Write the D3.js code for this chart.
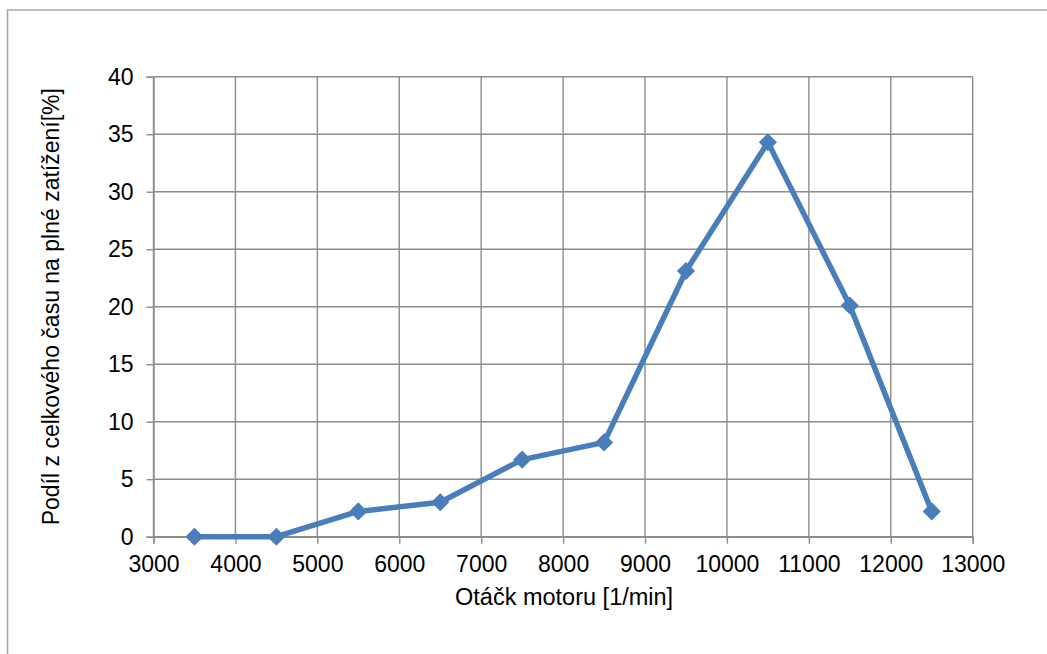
<!DOCTYPE html>
<html>
<head>
<meta charset="utf-8">
<script src="https://cdn.jsdelivr.net/npm/d3@7"></script>
<style>
  html, body { margin: 0; padding: 0; background: #fff; }
  svg { display: block; }
  text { font-family: "Liberation Sans", Arial, sans-serif; fill: #000; }
</style>
</head>
<body>
<script>
const rpm = [3500, 4500, 5500, 6500, 7500, 8500, 9500, 10500, 11500, 12500];
const share = [0, 0, 2.2, 3.0, 6.7, 8.2, 23.1, 34.3, 20.1, 2.2];
const xTicks = [3000, 4000, 5000, 6000, 7000, 8000, 9000, 10000, 11000, 12000, 13000];
const yTicks = [0, 5, 10, 15, 20, 25, 30, 35, 40];
const xTitle = "Otáčk motoru [1/min]";
const yTitle = "Podíl z celkového času na plné zatížení[%]";

const W = 1047, H = 654;
const m = { left: 153.5, right: W - 972.7, top: 76.7, bottom: H - 536.7 };
const svg = d3.select("body").append("svg").attr("width", W).attr("height", H);

// outer frame
svg.append("rect").attr("x", 7.5).attr("y", 10).attr("width", W + 10).attr("height", H + 10)
  .attr("fill", "none").attr("stroke", "#a6a6a6").attr("stroke-width", 1.5);

const x = d3.scaleLinear().domain([3000, 13000]).range([m.left, W - m.right]);
const y = d3.scaleLinear().domain([0, 40]).range([H - m.bottom, m.top]);
const gridColor = "#8c8c8c";

// grid
svg.append("g").selectAll("line").data(xTicks).join("line")
  .attr("x1", d => x(d)).attr("x2", d => x(d))
  .attr("y1", y(40)).attr("y2", y(0))
  .attr("stroke", gridColor).attr("stroke-width", 1.4);
svg.append("g").selectAll("line").data(yTicks).join("line")
  .attr("x1", x(3000)).attr("x2", x(13000))
  .attr("y1", d => y(d)).attr("y2", d => y(d))
  .attr("stroke", gridColor).attr("stroke-width", 1.4);

// axes
const xAxis = svg.append("g").attr("transform", `translate(0,${y(0)})`)
  .call(d3.axisBottom(x).tickValues(xTicks).tickFormat(d3.format("d")).tickSize(7).tickPadding(12));
const yAxis = svg.append("g").attr("transform", `translate(${x(3000)},0)`)
  .call(d3.axisLeft(y).tickValues(yTicks).tickFormat(d3.format("d")).tickSize(7).tickPadding(13));
[xAxis, yAxis].forEach(g => {
  g.select(".domain").attr("stroke", gridColor).attr("stroke-width", 1.4);
  g.selectAll(".tick line").attr("stroke", gridColor).attr("stroke-width", 1.4);
  g.selectAll(".tick text").attr("font-size", 23).attr("font-family", "Liberation Sans, Arial, sans-serif").attr("fill", "#000");
});

// line
const line = d3.line().x((d, i) => x(rpm[i])).y(d => y(d));
svg.append("path").datum(share).attr("d", line)
  .attr("fill", "none").attr("stroke", "#4a7ebb").attr("stroke-width", 5.5)
  .attr("stroke-linejoin", "round");

// markers
const sym = d3.symbol().type(d3.symbolDiamond2).size(210);
svg.append("g").selectAll("path").data(share).join("path")
  .attr("transform", (d, i) => `translate(${x(rpm[i])},${y(d)})`)
  .attr("d", sym).attr("fill", "#4a7ebb");

// titles
svg.append("text").attr("x", (x(3000) + x(13000)) / 2 + 1).attr("y", 605)
  .attr("text-anchor", "middle").attr("font-size", 23.5).text(xTitle);
svg.append("text")
  .attr("transform", `translate(59,${(y(0) + y(40)) / 2}) rotate(-90)`)
  .attr("text-anchor", "middle").attr("font-size", 23).text(yTitle);
</script>
</body>
</html>
